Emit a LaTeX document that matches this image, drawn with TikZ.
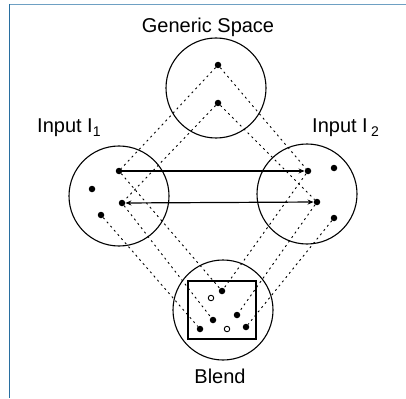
\documentclass[tikz,border=0pt]{standalone}
\usepackage{fontspec}
\setmainfont{Liberation Sans}
\usetikzlibrary{arrows.meta}
\definecolor{topblue}{RGB}{110,160,195}
\definecolor{leftblue}{RGB}{40,110,160}
\tikzset{
  space/.style={circle,draw,line width=1.1pt,minimum size=100pt,inner sep=0pt},
  dot/.style={circle,fill,inner sep=0pt,minimum size=6.5pt},
  odot/.style={circle,draw,fill=white,line width=0.9pt,inner sep=0pt,minimum size=5.5pt},
  map/.style={dash pattern=on 2pt off 3.5pt,line width=0.9pt},
  link/.style={line width=1.2pt},
  lbl/.style={font=\fontsize{20}{24}\selectfont,anchor=base,inner sep=0pt}
}
\begin{document}
\begin{tikzpicture}[x=1pt,y=-1pt]
\useasboundingbox (0,0) rectangle (406,398);
\fill[white] (0,0) rectangle (406,398);
% frame
\draw[topblue,line width=1pt] (9,4.5) -- (406,4.5);
\draw[leftblue,line width=1pt] (9,4) -- (9,398);
% spaces
\node[space] (G) at (216,88) {};
\node[space] (I1) at (119,196) {};
\node[space] (I2) at (307,194) {};
\node[space] (B) at (223,310) {};
\draw[line width=1.1pt] (188,281) rectangle (256,339);
% labels
\node[lbl] (tG) at (208,33) {Generic Space};
\node[lbl,anchor=base west] (tI1) at (37,133) {Input I\textsubscript{1}};
\node[lbl,anchor=base west] (tI2) at (312,133) {Input I\,\textsubscript{2}};
\node[lbl] (tB) at (220,383) {Blend};
% dots generic
\node[dot] (g1) at (218,65) {};
\node[dot] (g2) at (218,103) {};
% dots input 1
\node[dot] (a1) at (119,171) {};
\node[dot] (a2) at (92,189) {};
\node[dot] (a3) at (122,203) {};
\node[dot] (a4) at (101,215) {};
% dots input 2
\node[dot] (b1) at (308,171) {};
\node[dot] (b2) at (334,168) {};
\node[dot] (b3) at (317,202) {};
\node[dot] (b4) at (334,218) {};
% dots blend
\node[dot] (c1) at (222,291) {};
\node[odot] (c2) at (211,298) {};
\node[dot] (c3) at (213,320) {};
\node[dot] (c4) at (237,315) {};
\node[dot] (c5) at (200,329) {};
\node[odot] (c6) at (227,329) {};
\node[dot] (c7) at (246,327) {};
% cross-space links
\draw[link,-{Stealth[length=6pt,width=5pt]}] (a1) -- (b1);
\draw[link,{Stealth[length=6pt,width=5pt]}-{Stealth[length=6pt,width=5pt]}] (a3) -- (b3);
% mappings
\draw[map] (g1) -- (a1);
\draw[map] (g1) -- (b1);
\draw[map] (g2) -- (a3);
\draw[map] (g2) -- (b3);
\draw[map] (a1) -- (c1);
\draw[map] (a3) -- (c3);
\draw[map] (a4) -- (c5);
\draw[map] (b1) -- (c1);
\draw[map] (b3) -- (c4);
\draw[map] (b4) -- (c7);
\end{tikzpicture}
\end{document}
